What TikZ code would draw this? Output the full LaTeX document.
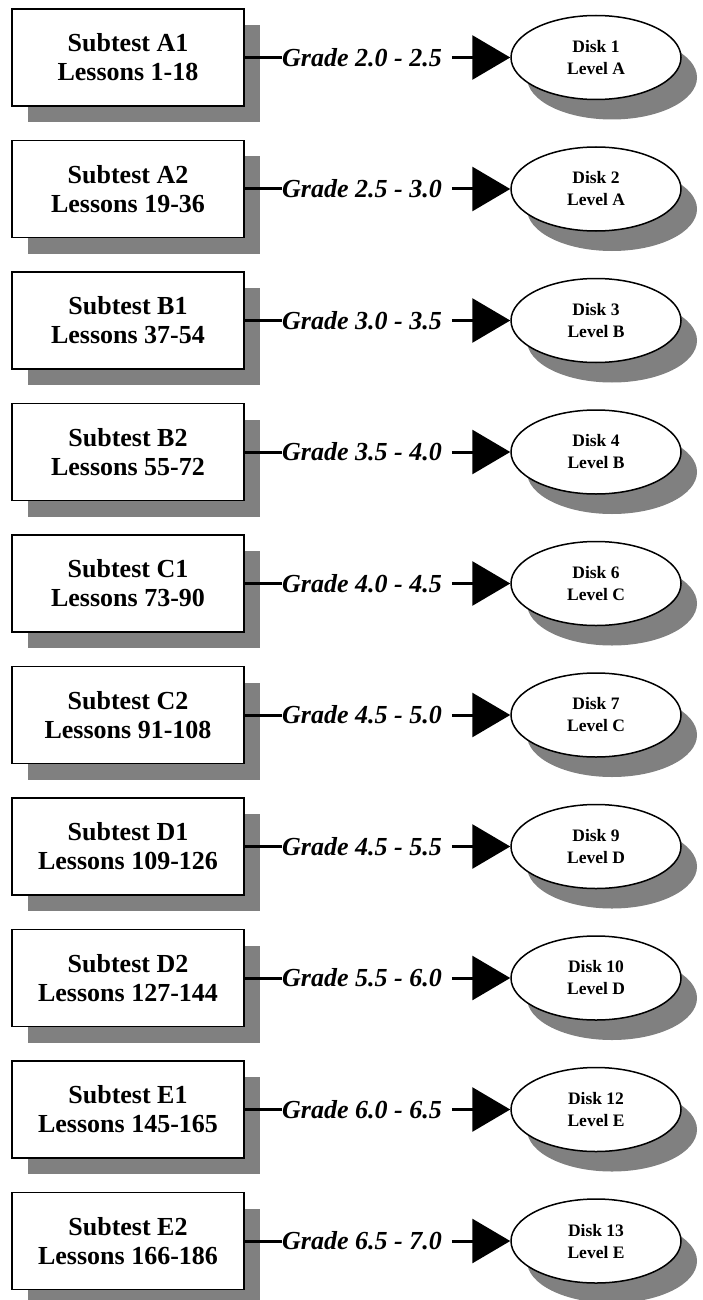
\documentclass[tikz,border=0pt]{standalone}
\usepackage{fontspec}
\setmainfont{Liberation Serif}
\usetikzlibrary{shapes.geometric, arrows.meta, shadows}
\tikzstyle{subtest} = [rectangle, minimum width=232pt, minimum height=97pt, align=center, draw=black, line width=1.5pt, fill=white, font=\fontsize{26}{29}\selectfont\bfseries, general shadow={fill=black!50, shadow xshift=16pt, shadow yshift=-16pt}]
\tikzstyle{disk} = [ellipse, minimum width=170pt, minimum height=84pt, inner sep=0pt, align=center, draw=black, line width=1.5pt, fill=white, font=\fontsize{17.5}{22}\selectfont\bfseries, general shadow={fill=black!50, shadow xshift=16pt, shadow yshift=-20pt}]
\tikzstyle{grade} = [anchor=west, inner sep=0pt, font=\fontsize{26}{29}\selectfont\bfseries\itshape]
\tikzstyle{link} = [line width=3pt]
\tikzstyle{arrow} = [line width=3pt,-{Triangle[length=38pt,width=44pt]}]

\begin{document}
\begin{tikzpicture}[x=1pt,y=-1pt]
\useasboundingbox (0,0) rectangle (702,1300);
%Entry 1
\node[subtest] (s1) at (128,57.5) {Subtest A1\\Lessons 1-18};
\node[grade] (g1) at (282,57.5) {Grade 2.0 - 2.5};
\node[disk] (d1) at (596,57.5) {Disk 1\\Level A};
\draw[link] (s1.east) -- (g1.west);
\draw[arrow] ([xshift=10pt]g1.east) -- (d1.west);
%Entry 2
\node[subtest] (s2) at (128,189) {Subtest A2\\Lessons 19-36};
\node[grade] (g2) at (282,189) {Grade 2.5 - 3.0};
\node[disk] (d2) at (596,189) {Disk 2\\Level A};
\draw[link] (s2.east) -- (g2.west);
\draw[arrow] ([xshift=10pt]g2.east) -- (d2.west);
%Entry 3
\node[subtest] (s3) at (128,320.5) {Subtest B1\\Lessons 37-54};
\node[grade] (g3) at (282,320.5) {Grade 3.0 - 3.5};
\node[disk] (d3) at (596,320.5) {Disk 3\\Level B};
\draw[link] (s3.east) -- (g3.west);
\draw[arrow] ([xshift=10pt]g3.east) -- (d3.west);
%Entry 4
\node[subtest] (s4) at (128,452) {Subtest B2\\Lessons 55-72};
\node[grade] (g4) at (282,452) {Grade 3.5 - 4.0};
\node[disk] (d4) at (596,452) {Disk 4\\Level B};
\draw[link] (s4.east) -- (g4.west);
\draw[arrow] ([xshift=10pt]g4.east) -- (d4.west);
%Entry 5
\node[subtest] (s5) at (128,583.5) {Subtest C1\\Lessons 73-90};
\node[grade] (g5) at (282,583.5) {Grade 4.0 - 4.5};
\node[disk] (d5) at (596,583.5) {Disk 6\\Level C};
\draw[link] (s5.east) -- (g5.west);
\draw[arrow] ([xshift=10pt]g5.east) -- (d5.west);
%Entry 6
\node[subtest] (s6) at (128,715) {Subtest C2\\Lessons 91-108};
\node[grade] (g6) at (282,715) {Grade 4.5 - 5.0};
\node[disk] (d6) at (596,715) {Disk 7\\Level C};
\draw[link] (s6.east) -- (g6.west);
\draw[arrow] ([xshift=10pt]g6.east) -- (d6.west);
%Entry 7
\node[subtest] (s7) at (128,846.5) {Subtest D1\\Lessons 109-126};
\node[grade] (g7) at (282,846.5) {Grade 4.5 - 5.5};
\node[disk] (d7) at (596,846.5) {Disk 9\\Level D};
\draw[link] (s7.east) -- (g7.west);
\draw[arrow] ([xshift=10pt]g7.east) -- (d7.west);
%Entry 8
\node[subtest] (s8) at (128,978) {Subtest D2\\Lessons 127-144};
\node[grade] (g8) at (282,978) {Grade 5.5 - 6.0};
\node[disk] (d8) at (596,978) {Disk 10\\Level D};
\draw[link] (s8.east) -- (g8.west);
\draw[arrow] ([xshift=10pt]g8.east) -- (d8.west);
%Entry 9
\node[subtest] (s9) at (128,1109.5) {Subtest E1\\Lessons 145-165};
\node[grade] (g9) at (282,1109.5) {Grade 6.0 - 6.5};
\node[disk] (d9) at (596,1109.5) {Disk 12\\Level E};
\draw[link] (s9.east) -- (g9.west);
\draw[arrow] ([xshift=10pt]g9.east) -- (d9.west);
%Entry 10
\node[subtest] (s10) at (128,1241) {Subtest E2\\Lessons 166-186};
\node[grade] (g10) at (282,1241) {Grade 6.5 - 7.0};
\node[disk] (d10) at (596,1241) {Disk 13\\Level E};
\draw[link] (s10.east) -- (g10.west);
\draw[arrow] ([xshift=10pt]g10.east) -- (d10.west);
\end{tikzpicture}
\end{document}
